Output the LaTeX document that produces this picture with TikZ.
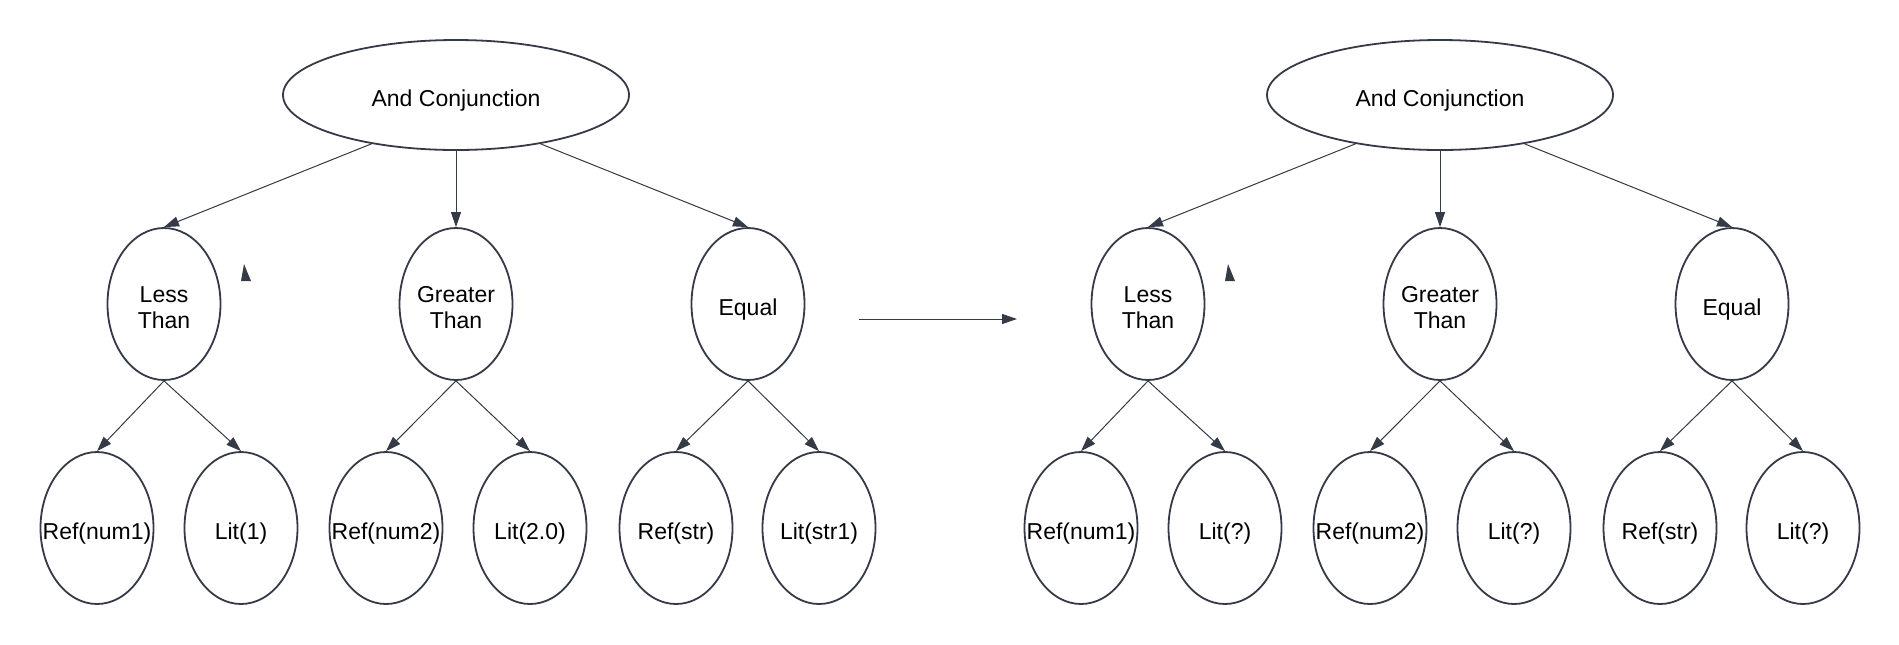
\documentclass[tikz,border=0pt]{standalone}
\usepackage{fontspec}
\setmainfont{Liberation Sans}
\usetikzlibrary{shapes.geometric,arrows.meta}
\definecolor{slate}{RGB}{52, 58, 70}

\tikzset{
  opnode/.style={draw=slate, line width=0.9pt, ellipse, inner xsep=-14pt, inner ysep=0pt,
                 minimum width=173pt, minimum height=55pt, align=center,
                 font=\fontsize{11.5}{13}\selectfont},
  leafnode/.style={opnode, minimum width=56.5pt, minimum height=76pt},
  oneline/.style={text height=11pt, text depth=0pt},
  twoline/.style={text height=24pt, text depth=0pt},
  link/.style={draw=slate, line width=0.5pt, -{Triangle[length=7.5pt, width=5pt]}}
}

\begin{document}
\begin{tikzpicture}[x=0.5pt, y=-0.5pt]
            % Frame to fix the page size
            \fill[white] (0, 0) rectangle (1899, 644);
            % Before: conjunction tree
            \node[opnode, oneline]   (rootL) at ( 456, 95) {And Conjunction};
            \node[leafnode, twoline] (ltL)   at ( 164, 304) {Less\\Than};
            \node[leafnode, twoline] (gtL)   at ( 456, 304) {Greater\\Than};
            \node[leafnode, oneline] (eqL)   at ( 748, 304) {Equal};
            \node[leafnode, oneline] (r1L)   at (  97, 528) {Ref(num1)};
            \node[leafnode, oneline] (l1L)   at ( 241, 528) {Lit(1)};
            \node[leafnode, oneline] (r2L)   at ( 386, 528) {Ref(num2)};
            \node[leafnode, oneline] (l2L)   at ( 530, 528) {Lit(2.0)};
            \node[leafnode, oneline] (rsL)   at ( 676, 528) {Ref(str)};
            \node[leafnode, oneline] (lsL)   at ( 819, 528) {Lit(str1)};
            \draw[link] (rootL.-150) -- (ltL.north);
            \draw[link] (rootL) -- (gtL.north);
            \draw[link] (rootL.-30) -- (eqL.north);
            \draw[link] (ltL.south) -- (r1L.north);
            \draw[link] (ltL.south) -- (l1L.north);
            \draw[link] (gtL.south) -- (r2L.north);
            \draw[link] (gtL.south) -- (l2L.north);
            \draw[link] (eqL.south) -- (rsL.north);
            \draw[link] (eqL.south) -- (lsL.north);
            \fill[slate] (244, 264) -- (251, 281) -- (241, 281) -- cycle;
            % Transformation arrow
            \coordinate (arrS) at ( 859, 319);
            \coordinate (arrE) at (1017, 319);
            \draw[link] (arrS) -- (arrE);
            % After: literals replaced
            \node[opnode, oneline]   (rootR) at (1440, 95) {And Conjunction};
            \node[leafnode, twoline] (ltR)   at (1148, 304) {Less\\Than};
            \node[leafnode, twoline] (gtR)   at (1440, 304) {Greater\\Than};
            \node[leafnode, oneline] (eqR)   at (1732, 304) {Equal};
            \node[leafnode, oneline] (r1R)   at (1081, 528) {Ref(num1)};
            \node[leafnode, oneline] (l1R)   at (1225, 528) {Lit(?)};
            \node[leafnode, oneline] (r2R)   at (1370, 528) {Ref(num2)};
            \node[leafnode, oneline] (l2R)   at (1514, 528) {Lit(?)};
            \node[leafnode, oneline] (rsR)   at (1660, 528) {Ref(str)};
            \node[leafnode, oneline] (lsR)   at (1803, 528) {Lit(?)};
            \draw[link] (rootR.-150) -- (ltR.north);
            \draw[link] (rootR) -- (gtR.north);
            \draw[link] (rootR.-30) -- (eqR.north);
            \draw[link] (ltR.south) -- (r1R.north);
            \draw[link] (ltR.south) -- (l1R.north);
            \draw[link] (gtR.south) -- (r2R.north);
            \draw[link] (gtR.south) -- (l2R.north);
            \draw[link] (eqR.south) -- (rsR.north);
            \draw[link] (eqR.south) -- (lsR.north);
            \fill[slate] (1228, 264) -- (1235, 281) -- (1225, 281) -- cycle;
\end{tikzpicture}
\end{document}
